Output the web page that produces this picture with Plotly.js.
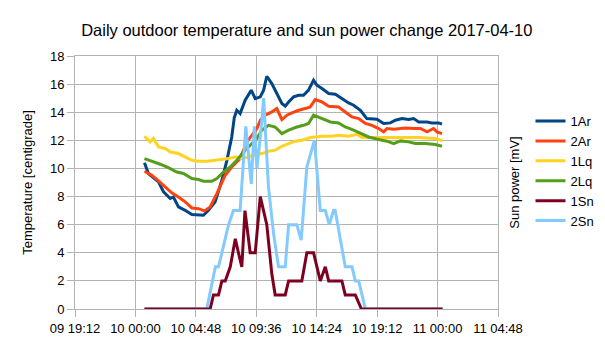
<!DOCTYPE html>
<html>
<head>
<meta charset="utf-8">
<script src="https://cdn.plot.ly/plotly-3.0.1.min.js"></script>
<style>html,body{margin:0;padding:0;background:#fff;overflow:hidden;}#chart{width:620px;height:340px;}</style>
</head>
<body>
<div id="chart"></div>
<script>
// Times are minutes after 2017-04-10 00:00
const seriesNames = ["1Ar", "2Ar", "1Lq", "2Lq", "1Sn", "2Sn"];

const t1Ar = [43,62,110,134,166,181,205,237,269,324,348,380,412,436,459,471,483,499,523,552,571,595,611,626,650,674,698,714,730,754,778,801,825,849,865,889,921,953,984,1016,1040,1072,1103,1151,1183,1215,1239,1270,1302,1326,1350,1390,1413,1445,1461];
const v1Ar = [10.4,9.64,9.04,8.33,7.86,7.97,7.26,7.02,6.72,6.67,7.02,7.62,9.16,10.58,12.24,13.6,14.14,13.9,14.85,15.57,14.97,15.09,15.57,16.56,16.04,15.33,14.62,14.43,14.73,15.09,15.21,15.21,15.57,16.28,15.92,15.69,15.33,15.28,14.97,14.66,14.5,14.14,13.55,13.5,13.2,13.24,13.43,13.55,13.48,13.55,13.31,13.31,13.24,13.24,13.15];

const t2Ar = [43,78,110,142,173,205,237,269,301,329,356,388,428,459,499,531,555,579,595,619,650,674,698,722,746,778,809,833,857,889,921,968,1000,1032,1064,1096,1127,1159,1183,1199,1231,1286,1326,1358,1390,1421,1437,1461];
const v2Ar = [9.8,9.52,9.11,8.68,8.26,7.97,7.62,7.19,7.14,6.98,7.26,8.21,9.52,10.1,10.7,11.89,12.36,12.84,13.43,13.79,14.02,14.26,13.48,13.79,13.95,14.14,14.26,14.38,14.9,14.73,14.43,14.38,14.02,13.67,13.55,13.2,13.07,12.84,12.6,12.84,12.79,12.88,12.84,12.84,12.6,12.84,12.6,12.48];

const t1Lq = [43,70,86,110,142,166,205,237,269,301,340,380,412,444,476,507,539,571,602,634,666,698,730,762,793,833,857,889,936,968,1016,1056,1079,1127,1191,1254,1302,1350,1430,1464];
const v1Lq = [12.29,11.89,12.13,11.53,11.42,11.17,11.06,10.82,10.58,10.51,10.51,10.58,10.63,10.7,10.82,10.7,10.82,10.99,11.06,11.22,11.3,11.58,11.77,11.94,12.01,12.2,12.24,12.29,12.29,12.36,12.29,12.43,12.2,12.2,12.17,12.2,12.2,12.2,12.13,11.96];

const t2Lq = [43,78,118,157,197,229,269,301,324,364,388,420,452,483,515,547,579,602,634,666,698,730,769,801,825,849,889,929,968,1000,1040,1072,1111,1159,1199,1231,1263,1302,1334,1382,1430,1461];
const v2Lq = [10.7,10.53,10.3,10.06,9.75,9.64,9.28,9.21,9.09,9.09,9.28,9.75,10.1,10.58,11.17,11.65,12.13,12.72,13.07,12.95,12.48,12.72,12.95,13.07,13.2,13.79,13.55,13.31,13.24,12.95,12.72,12.48,12.24,12.06,11.94,11.77,11.96,11.89,11.77,11.77,11.7,11.58];

const t1Sn = [43,356,372,396,412,428,452,476,491,507,522,547,571,595,626,650,666,714,730,793,817,849,881,905,921,984,1000,1048,1077,1464];
const v1Sn = [0,0,1,1,2,2,3,5,4,3,7,4,4,8,6,2.5,1,1,2,2,4,4,2,3,2,2,1,1,0,0];

const t2Sn = [43,340,381,396,444,467,499,515,526,552,567,579,595,611,634,658,682,714,730,769,790,817,853,881,905,924,944,952,976,1000,1032,1048,1064,1096,1464];
const v2Sn = [0,0,3,3,6,7,7,10.6,13,8.9,13,10,12.2,15,8.7,5.4,3,3,6,6,4.9,10.1,12,7,7,6,7,7,4.9,3,3,2,2,0,0];

const colors = ["#004586", "#ff420e", "#ffd320", "#579d1c", "#7e0021", "#83caff"];

function toTs(m) {
  const day = 10 + Math.floor(m / 1440);
  const rem = m % 1440;
  const hh = String(Math.floor(rem / 60)).padStart(2, "0");
  const mm = String(rem % 60).padStart(2, "0");
  return "2017-04-" + day + " " + hh + ":" + mm;
}

const times = [t1Ar, t2Ar, t1Lq, t2Lq, t1Sn, t2Sn];
const values = [v1Ar, v2Ar, v1Lq, v2Lq, v1Sn, v2Sn];

// drawing order: 2Sn is painted beneath 1Sn (as in the reference)
const drawOrder = [0, 1, 2, 3, 5, 4];

const traces = drawOrder.map(i => ({
  type: "scatter",
  mode: "lines",
  name: seriesNames[i],
  legendrank: i + 1,
  x: times[i].map(toTs),
  y: values[i],
  yaxis: i >= 4 ? "y2" : "y",
  line: {color: colors[i], width: 3},
  hoverinfo: "skip"
}));

const font = {family: "Liberation Sans, Arial, sans-serif", size: 13, color: "#000"};

const W = 620;
const layout = {
  width: W,
  height: 340,
  margin: {l: 75, r: W - 498.5, t: 56, b: 31.3},
  paper_bgcolor: "#fff",
  plot_bgcolor: "#fff",
  font: font,
  title: {
    text: "Daily outdoor temperature and sun power change 2017-04-10",
    font: {family: "Liberation Sans, Arial, sans-serif", size: 16.5, color: "#000"},
    xref: "paper", x: 0.548, xanchor: "center",
    yref: "container", y: 0.912, yanchor: "middle"
  },
  xaxis: {
    type: "date",
    range: ["2017-04-09 19:12", "2017-04-11 04:48"],
    tick0: "2017-04-09 19:12",
    dtick: 17280000,
    tickformat: "%d %H:%M",
    showgrid: true, gridcolor: "#b3b3b3", gridwidth: 1,
    showline: true, linecolor: "#b3b3b3", mirror: true,
    ticks: "outside", ticklen: 7, tickcolor: "#b3b3b3",
    zeroline: false,
    tickfont: font
  },
  yaxis: {
    range: [0, 18],
    dtick: 2,
    showgrid: true, gridcolor: "#b3b3b3", gridwidth: 1,
    showline: true, linecolor: "#b3b3b3", mirror: true,
    ticks: "outside", ticklen: 7, tickcolor: "#b3b3b3",
    zeroline: false,
    tickfont: font,
    title: {text: "Temperature [centigrade]", font: font, standoff: 14}
  },
  yaxis2: {
    overlaying: "y",
    side: "right",
    range: [0, 18],
    showgrid: false,
    showticklabels: false,
    ticks: "",
    zeroline: false,
    showline: false,
    title: {text: "Sun power [mV]", font: font, standoff: 11}
  },
  legend: {
    x: (531 - 75.3) / 423.2, xanchor: "left",
    y: 0.545, yanchor: "middle",
    font: font,
    itemwidth: 30,
    traceorder: "normal",
    bgcolor: "rgba(0,0,0,0)",
    borderwidth: 0
  },
  showlegend: true
};

Plotly.newPlot("chart", traces, layout, {staticPlot: true, displayModeBar: false});
</script>
</body>
</html>
